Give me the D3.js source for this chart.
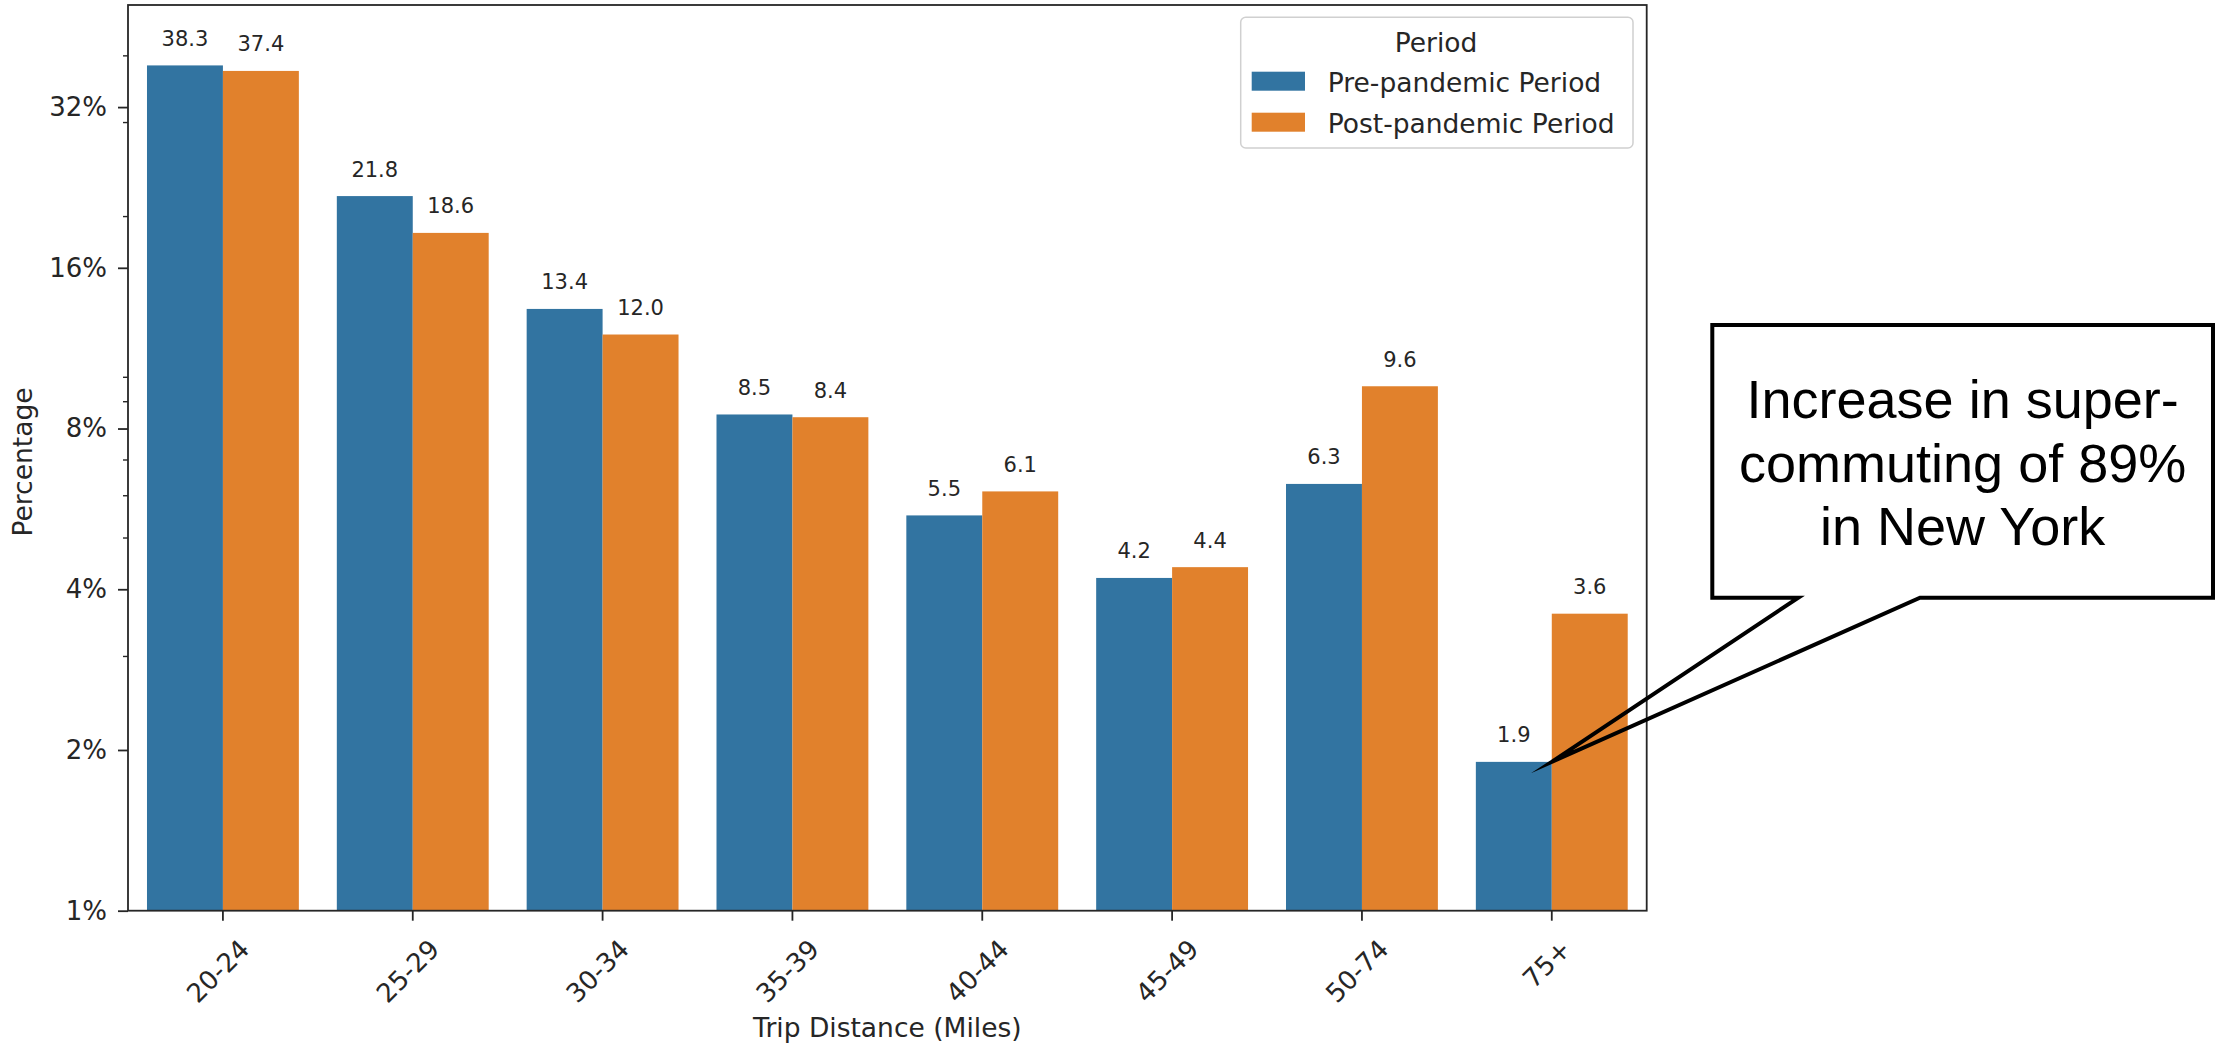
<!DOCTYPE html>
<html>
<head>
<meta charset="utf-8">
<script src="https://cdn.jsdelivr.net/npm/d3@7"></script>
<style>
  html, body { margin: 0; padding: 0; background: #ffffff; }
  svg { display: block; }
</style>
</head>
<body>
<svg id="chart" width="2215" height="1045"></svg>
<script>
// ---------- data ----------
const categories = ["20-24", "25-29", "30-34", "35-39", "40-44", "45-49", "50-74", "75+"];
const seriesNames = ["Pre-pandemic Period", "Post-pandemic Period"];
const preValues  = [38.3, 21.8, 13.4, 8.5, 5.5, 4.2, 6.3, 1.9];
const postValues = [37.4, 18.6, 12.0, 8.4, 6.1, 4.4, 9.6, 3.6];
const yMajorTicks = [1, 2, 4, 8, 16, 32];
const yMinorTicks = [3, 5, 6, 7, 9, 10, 20, 30, 40];
const calloutLines = ["Increase in super-", "commuting of 89%", "in New York"];
const calloutTarget = { category: "75+", value: 1.9 };

// ---------- layout ----------
const W = 2215, H = 1045;
const plot = { left: 128, top: 5, right: 1646.7, bottom: 910.7 };
const colors = ["#3274a1", "#e1812c"];
const textColor = "#262626";
const baseFont = "'DejaVu Sans', sans-serif";

const svg = d3.select("#chart");

const x = d3.scaleBand()
  .domain(categories)
  .range([plot.left, plot.right])
  .paddingInner(0.2)
  .paddingOuter(0.1);

const xSub = d3.scaleBand()
  .domain(seriesNames)
  .range([0, x.bandwidth()]);

const y = d3.scaleLog().base(2)
  .domain([1, 49.7])
  .range([plot.bottom, plot.top]);

const rows = categories.map((c, i) => ({ cat: c, vals: [preValues[i], postValues[i]] }));

// ---------- bars ----------
const gBars = svg.append("g");
rows.forEach(r => {
  r.vals.forEach((v, j) => {
    gBars.append("rect")
      .attr("x", x(r.cat) + xSub(seriesNames[j]))
      .attr("y", y(v))
      .attr("width", xSub.bandwidth())
      .attr("height", y(1) - y(v))
      .attr("fill", colors[j]);
    gBars.append("text")
      .attr("x", x(r.cat) + xSub(seriesNames[j]) + xSub.bandwidth() / 2)
      .attr("y", y(v) - 19.5)
      .attr("text-anchor", "middle")
      .attr("font-family", baseFont)
      .attr("font-size", 21)
      .attr("fill", textColor)
      .text(v.toFixed(1));
  });
});

// ---------- axes ----------
const yAxisMajor = d3.axisLeft(y).tickValues(yMajorTicks).tickSize(10).tickPadding(11)
  .tickFormat(d => d + "%");
const gY = svg.append("g").attr("transform", `translate(${plot.left},0)`).call(yAxisMajor);
gY.select(".domain").remove();
gY.selectAll("line").attr("stroke", textColor).attr("stroke-width", 1.8);
gY.selectAll("text").attr("font-family", baseFont).attr("font-size", 26).attr("fill", textColor);

const yAxisMinor = d3.axisLeft(y).tickValues(yMinorTicks).tickSize(5).tickFormat("");
const gYm = svg.append("g").attr("transform", `translate(${plot.left},0)`).call(yAxisMinor);
gYm.select(".domain").remove();
gYm.selectAll("line").attr("stroke", textColor).attr("stroke-width", 1.4);

const xAxis = d3.axisBottom(x).tickSize(10).tickFormat("");
const gX = svg.append("g").attr("transform", `translate(0,${plot.bottom})`).call(xAxis);
gX.select(".domain").remove();
gX.selectAll("line").attr("stroke", textColor).attr("stroke-width", 1.8);

// rotated x labels
const gXL = svg.append("g");
categories.forEach(c => {
  const cx = x(c) + x.bandwidth() / 2;
  const t = gXL.append("text")
    .attr("text-anchor", "middle")
    .attr("dy", "0.35em")
    .attr("font-family", baseFont)
    .attr("font-size", 26)
    .attr("fill", textColor)
    .text(c);
  const w = t.node().getComputedTextLength();
  const cy = 939 + (w + 15) * Math.SQRT1_2 / 2;
  t.attr("transform", `translate(${cx - 5},${cy}) rotate(-45)`);
});

// frame
svg.append("rect")
  .attr("x", plot.left).attr("y", plot.top)
  .attr("width", plot.right - plot.left).attr("height", plot.bottom - plot.top)
  .attr("fill", "none").attr("stroke", textColor).attr("stroke-width", 1.8);

// axis titles
svg.append("text")
  .attr("x", (plot.left + plot.right) / 2)
  .attr("y", 1036.5)
  .attr("text-anchor", "middle")
  .attr("font-family", baseFont).attr("font-size", 26.5).attr("fill", textColor)
  .text("Trip Distance (Miles)");

svg.append("text")
  .attr("transform", `translate(31.5,462) rotate(-90)`)
  .attr("text-anchor", "middle")
  .attr("font-family", baseFont).attr("font-size", 26.5).attr("fill", textColor)
  .text("Percentage");

// ---------- legend ----------
const lg = svg.append("g");
lg.append("rect")
  .attr("x", 1240.7).attr("y", 17.3).attr("width", 392.3).attr("height", 130.7)
  .attr("rx", 5).attr("ry", 5)
  .attr("fill", "#ffffff").attr("fill-opacity", 0.8)
  .attr("stroke", "#d0d0d0").attr("stroke-width", 1.5);
lg.append("text")
  .attr("x", 1436).attr("y", 51.7)
  .attr("text-anchor", "middle")
  .attr("font-family", baseFont).attr("font-size", 26.5).attr("fill", textColor)
  .text("Period");
seriesNames.forEach((s, j) => {
  const top = 71.7 + j * 41;
  lg.append("rect")
    .attr("x", 1251.7).attr("y", top).attr("width", 53.3).attr("height", 19)
    .attr("fill", colors[j]);
  lg.append("text")
    .attr("x", 1327.7).attr("y", top + 20.5)
    .attr("font-family", baseFont).attr("font-size", 26.5).attr("fill", textColor)
    .text(s);
});

// ---------- callout ----------
const tipX = x(calloutTarget.category) + xSub(seriesNames[1]);
const tipY = y(calloutTarget.value);
const box = { left: 1712.3, top: 325, right: 2213, bottom: 597.7, baseL: 1798.3, baseR: 1920 };
const path = d3.path();
path.moveTo(box.baseL, box.bottom);
path.lineTo(box.left, box.bottom);
path.lineTo(box.left, box.top);
path.lineTo(box.right, box.top);
path.lineTo(box.right, box.bottom);
path.lineTo(box.baseR, box.bottom);
path.lineTo(tipX, tipY);
path.closePath();
svg.append("path")
  .attr("d", path.toString())
  .attr("fill", "none")
  .attr("stroke", "#000000")
  .attr("stroke-width", 4)
  .attr("stroke-linejoin", "miter")
  .attr("stroke-miterlimit", 20);

calloutLines.forEach((line, i) => {
  svg.append("text")
    .attr("x", (box.left + box.right) / 2)
    .attr("y", 418.3 + i * 63.3)
    .attr("text-anchor", "middle")
    .attr("font-family", "'Liberation Sans', Arial, sans-serif")
    .attr("font-size", 54)
    .attr("fill", "#000000")
    .text(line);
});
</script>
</body>
</html>
